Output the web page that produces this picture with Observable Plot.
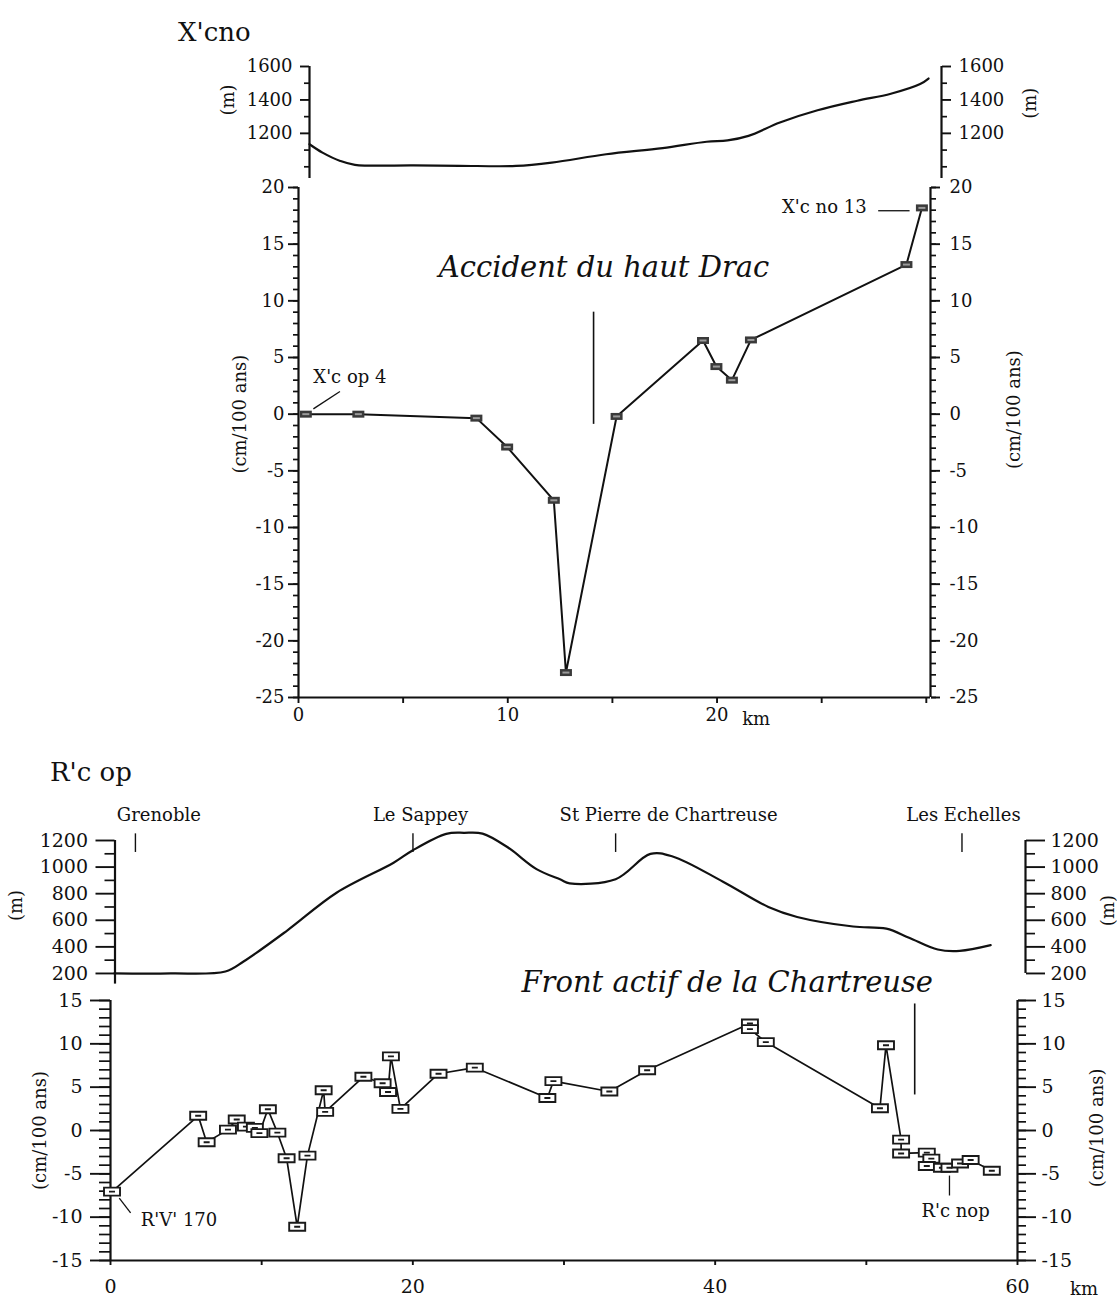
<!DOCTYPE html>
<html><head><meta charset="utf-8">
<script src="https://cdn.jsdelivr.net/npm/d3@7"></script>
<script src="https://cdn.jsdelivr.net/npm/@observablehq/plot@0.6"></script>
<style>
body{margin:0;background:#fff;}
#fig{position:relative;width:1117px;height:1304px;overflow:hidden;font-family:"DejaVu Serif",serif;color:#111;background:#fff;}
#fig svg{position:absolute;left:0;}
.title{position:absolute;font-size:26px;line-height:26px;white-space:nowrap;}
</style></head><body><div id="fig"></div>
<script>
// ---------- Panel 1 : X'cno ----------
const xcnoElevKm = [0.53, 1.15, 2.0, 2.7, 5.5, 7.7, 10.4, 12.1, 14.7, 17.4, 19.5, 20.5, 21.5, 23.0, 24.8, 26.7, 28.3, 29.7, 30.1];
const xcnoElevM  = [1135, 1085, 1035, 1012, 1008, 1006, 1005, 1025, 1075, 1112, 1150, 1158, 1185, 1265, 1338, 1395, 1437, 1495, 1528];
const xcnoKm  = [0.35, 2.86, 8.5, 9.97, 12.2, 12.78, 15.2, 19.33, 19.97, 20.71, 21.62, 29.05, 29.79];
const xcnoVel = [0, 0, -0.35, -2.9, -7.6, -22.8, -0.2, 6.5, 4.2, 3.0, 6.55, 13.2, 18.2];
const xcnoFaultKm = [14.1], xcnoFaultVel = [-0.9, 9.0];
const xcnoElevTicks = [1200, 1400, 1600], xcnoElevMinor = [1000, 1100, 1300, 1500];
const xcnoVelTicks = d3.range(-25, 21, 5), xcnoVelMinor = d3.range(-25, 21, 1);
const xcnoKmTicks = [0, 5, 10, 15, 20, 25, 30], xcnoKmLabels = [0, 10, 20];
const xcnoNotesStart = [{text: "X'c op 4", km: 0.71, v: 3.26}, {text: "km", km: 21.2, v: -26.9}];
const xcnoNotesEnd = [{text: "X'c no 13", km: 27.15, v: 18.3}];
const xcnoLeaders = [{x1: 0.71, y1: 0.47, x2: 1.98, y2: 2.0}, {x1: 27.7, y1: 17.95, x2: 29.2, y2: 17.95}];
const xcnoTitle = "Accident du haut Drac";

// ---------- Panel 2 : R'c op ----------
const rcopElevKm = [0.26, 4.0, 7.6, 8.8, 11.64, 14.95, 18.72, 19.97, 22.2, 23.4, 24.6, 26.26, 28.17, 29.76, 30.36, 33.4, 35.7, 37.17, 40.5, 43.5, 45.4, 49.1, 51.3, 52.8, 54.7, 56.15, 58.2];
const rcopElevM  = [200, 200, 215, 290, 519, 807, 1033, 1125, 1250, 1258, 1252, 1149, 985, 906, 878, 909, 1099, 1080, 890, 700, 625, 553, 537, 469, 380, 370, 413];
const rcopKm  = [0.1, 5.8, 6.36, 7.77, 8.35, 8.96, 9.55, 9.85, 10.41, 11.04, 11.65, 12.35, 13.03, 14.1, 14.2, 16.73, 18.0, 18.36, 18.55, 19.18, 21.7, 24.1, 28.9, 29.3, 33.0, 35.5, 42.3, 42.3, 43.35, 50.9, 51.3, 52.3, 52.3, 54.0, 54.3, 54.0, 55.0, 55.5, 56.2, 56.9, 58.3];
const rcopVel = [-7.05, 1.7, -1.35, 0.1, 1.27, 0.45, 0.3, -0.3, 2.45, -0.25, -3.2, -11.1, -2.9, 4.65, 2.15, 6.2, 5.45, 4.45, 8.55, 2.5, 6.55, 7.25, 3.75, 5.7, 4.5, 6.95, 12.35, 11.7, 10.2, 2.57, 9.83, -1.05, -2.65, -2.55, -3.25, -4.1, -4.3, -4.3, -3.8, -3.4, -4.65];
const rcopFaultKm = [53.2], rcopFaultVel = [4.1, 14.6];
const placeNames   = ["Grenoble", "Le Sappey", "St Pierre de Chartreuse", "Les Echelles"];
const placeLabelKm = [3.2, 20.5, 36.9, 56.4];
const placeTickKm  = [1.65, 20.0, 33.4, 56.3];
const placeLabelM = 1392, placeTickM = [1110, 1250];
const rcopElevTicks = [200, 400, 600, 800, 1000, 1200], rcopElevMinor = [300, 500, 700, 900, 1100];
const rcopVelTicks = d3.range(-15, 16, 5), rcopVelMinor = d3.range(-15, 16, 1);
const rcopKmTicks = [0, 10, 20, 30, 40, 50, 60], rcopKmLabels = [0, 20, 40, 60];
const rcopNotesStart = [{text: "R'V' 170", km: 2.0, v: -10.33}];
const rcopNotesMiddle = [{text: "R'c nop", km: 55.9, v: -9.3}, {text: "km", km: 64.4, v: -18.3}];
const rcopLeaders = [{x1: 0.58, y1: -7.8, x2: 1.33, y2: -9.5}, {x1: 55.5, y1: -5.2, x2: 55.5, y2: -7.5}];
const rcopTitle = "Front actif de la Chartreuse";

// ---------- drawing ----------
const W = 1117;
const fig = document.getElementById("fig");
const baseStyle = {background: "none", overflow: "visible", fontFamily: "DejaVu Serif", fontSize: "18px", color: "#111"};
const tbl = (xs, ys) => xs.map((x, i) => ({x, y: ys[i]}));
const fmt = d => String(d);

function yAxes(anchor, major, minor, majorSize, minorSize, pad, fs, labels = major) {
  return [
    Plot.axisY({anchor, ticks: minor, tickSize: minorSize, tickFormat: () => "", strokeWidth: 1.7, label: null}),
    Plot.axisY({anchor, ticks: major, tickSize: majorSize, tickPadding: pad, strokeWidth: 1.9, label: null, fontSize: fs,
      tickFormat: d => labels.includes(d) ? fmt(d) : ""})
  ];
}
const boxDark = {draw(c) { c.rect(-6, -3.5, 12, 7); }};
const slitTop = {draw(c) { c.rect(-3.5, -1, 7, 2); }};
const boxOpen = {draw(c) { c.rect(-8, -4, 16, 8); c.moveTo(-3, 0); c.lineTo(3, 0); }};

function place(svg, top) { svg.style.top = top + "px"; fig.appendChild(svg); }

// Panel 1 elevation
const topElevDom = [0.53, 30.72];
place(Plot.plot({
  width: W, height: 145, marginLeft: 309, marginRight: W - 941, marginTop: 26, marginBottom: 7,
  x: {domain: topElevDom, axis: null}, y: {domain: [930, 1600], axis: null}, style: baseStyle,
  marks: [
    Plot.ruleX(topElevDom, {strokeWidth: 2.2}),
    ...yAxes("left", xcnoElevTicks, xcnoElevMinor, 9, 5, 8, 18),
    ...yAxes("right", xcnoElevTicks, xcnoElevMinor, 9, 5, 8, 18),
    Plot.line(tbl(xcnoElevKm, xcnoElevM), {x: "x", y: "y", strokeWidth: 2.2, curve: "catmull-rom"}),
    Plot.text(["(m)"], {x: () => topElevDom[0], y: () => 1400, dx: -81, rotate: -90, fontSize: 18}),
    Plot.text(["(m)"], {x: () => topElevDom[1], y: () => 1380, dx: 89, rotate: -90, fontSize: 18})
  ]
}), 40);

// Panel 1 velocity
const topVelDom = [0, 30.2];
const xcPts = tbl(xcnoKm, xcnoVel);
place(Plot.plot({
  width: W, height: 570, marginLeft: 298, marginRight: W - 930, marginTop: 7, marginBottom: 53,
  x: {domain: topVelDom, axis: null}, y: {domain: [-25, 20], axis: null}, style: baseStyle,
  marks: [
    Plot.ruleX(topVelDom, {strokeWidth: 2.2}),
    Plot.ruleY([-25], {strokeWidth: 2.2}),
    ...yAxes("left", xcnoVelTicks, xcnoVelMinor, 10, 5, 4, 18),
    ...yAxes("right", xcnoVelTicks, xcnoVelMinor, 9, 5, 10, 18),
    Plot.axisX({anchor: "bottom", ticks: xcnoKmTicks, tickSize: 6, tickPadding: 5, strokeWidth: 1.9, label: null, fontSize: 18,
      tickFormat: d => xcnoKmLabels.includes(d) ? fmt(d) : ""}),
    Plot.ruleX(xcnoFaultKm, {y1: xcnoFaultVel[0], y2: xcnoFaultVel[1], strokeWidth: 1.6}),
    Plot.line(xcPts, {x: "x", y: "y", strokeWidth: 2}),
    Plot.dot(xcPts, {x: "x", y: "y", symbol: boxDark, r: 4, fill: "#3a3a3a", stroke: "none"}),
    Plot.dot(xcPts, {x: "x", y: "y", symbol: slitTop, r: 2, fill: "#9a9a9a", stroke: "none"}),
    Plot.link(xcnoLeaders, {x1: "x1", y1: "y1", x2: "x2", y2: "y2", strokeWidth: 1.3}),
    Plot.text(xcnoNotesStart, {x: "km", y: "v", text: "text", textAnchor: "start", fontSize: 18}),
    Plot.text(xcnoNotesEnd, {x: "km", y: "v", text: "text", textAnchor: "end", fontSize: 18}),
    Plot.text([xcnoTitle], {x: () => 14.6, y: () => 12.9, fontSize: 29, fontStyle: "italic"}),
    Plot.text(["(cm/100 ans)"], {x: () => topVelDom[0], y: () => 0, dx: -58, rotate: -90, fontSize: 18}),
    Plot.text(["(cm/100 ans)"], {x: () => topVelDom[1], y: () => 0.4, dx: 84, rotate: -90, fontSize: 18})
  ]
}), 180);

// Panel 2 elevation
const lowElevDom = [0.3, 60.5];
place(Plot.plot({
  width: W, height: 210, marginLeft: 114.5, marginRight: W - 1025, marginTop: 60, marginBottom: 6.4,
  x: {domain: lowElevDom, axis: null}, y: {domain: [120, 1200], axis: null}, style: baseStyle,
  marks: [
    Plot.ruleX([lowElevDom[0]], {y1: 120, y2: 1200, strokeWidth: 2.2}),
    Plot.ruleX([lowElevDom[1]], {y1: 200, y2: 1200, strokeWidth: 2.2}),
    ...yAxes("left", rcopElevTicks, rcopElevMinor, 19, 10, 8, 19),
    ...yAxes("right", rcopElevTicks, rcopElevMinor, 19, 9, 6, 19),
    Plot.line(tbl(rcopElevKm, rcopElevM), {x: "x", y: "y", strokeWidth: 2.2, curve: "catmull-rom"}),
    Plot.ruleX(placeTickKm, {y1: placeTickM[0], y2: placeTickM[1], strokeWidth: 1.4}),
    Plot.text(placeNames, {x: (d, i) => placeLabelKm[i], y: () => placeLabelM, fontSize: 18}),
    Plot.text(["(m)"], {x: () => lowElevDom[0], y: () => 711, dx: -99, rotate: -90, fontSize: 18}),
    Plot.text(["(m)"], {x: () => lowElevDom[1], y: () => 673, dx: 83, rotate: -90, fontSize: 18})
  ]
}), 780);

// Panel 2 velocity
const lowVelDom = [0, 60];
const rcPts = tbl(rcopKm, rcopVel);
place(Plot.plot({
  width: W, height: 354, marginLeft: 110, marginRight: W - 1017, marginTop: 50, marginBottom: 44,
  x: {domain: lowVelDom, axis: null}, y: {domain: [-15, 15], axis: null}, style: baseStyle,
  marks: [
    Plot.ruleX(lowVelDom, {strokeWidth: 2.2}),
    Plot.ruleY([-15], {strokeWidth: 2.2}),
    ...yAxes("left", rcopVelTicks, rcopVelMinor, 20, 11, 8, 19),
    ...yAxes("right", rcopVelTicks, rcopVelMinor, 18, 8, 6, 19),
    Plot.axisX({anchor: "bottom", ticks: rcopKmTicks, tickSize: 5, tickPadding: 14, strokeWidth: 1.9, label: null, fontSize: 19,
      tickFormat: d => rcopKmLabels.includes(d) ? fmt(d) : ""}),
    Plot.ruleX(rcopFaultKm, {y1: rcopFaultVel[0], y2: rcopFaultVel[1], strokeWidth: 1.6}),
    Plot.line(rcPts, {x: "x", y: "y", strokeWidth: 1.7}),
    Plot.dot(rcPts, {x: "x", y: "y", symbol: boxOpen, r: 4, fill: "white", stroke: "#1a1a1a", strokeWidth: 1.9}),
    Plot.link(rcopLeaders, {x1: "x1", y1: "y1", x2: "x2", y2: "y2", strokeWidth: 1.3}),
    Plot.text(rcopNotesStart, {x: "km", y: "v", text: "text", textAnchor: "start", fontSize: 18}),
    Plot.text(rcopNotesMiddle, {x: "km", y: "v", text: "text", fontSize: 18}),
    Plot.text([rcopTitle], {x: () => 40.8, y: () => 17.0, fontSize: 29, fontStyle: "italic"}),
    Plot.text(["(cm/100 ans)"], {x: () => lowVelDom[0], y: () => 0, dx: -70, rotate: -90, fontSize: 18}),
    Plot.text(["(cm/100 ans)"], {x: () => lowVelDom[1], y: () => 0.3, dx: 80, rotate: -90, fontSize: 18})
  ]
}), 950);

// panel titles
[["X'cno", 178, 19], ["R'c op", 50, 759]].forEach(([t, x, y]) => {
  const d = document.createElement("div");
  d.className = "title"; d.textContent = t; d.style.left = x + "px"; d.style.top = y + "px";
  fig.appendChild(d);
});
</script></body></html>
